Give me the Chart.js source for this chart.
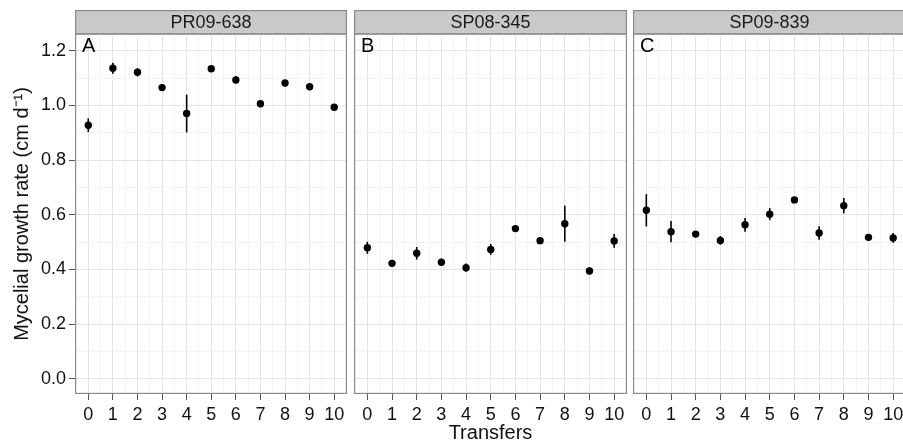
<!DOCTYPE html>
<html>
<head>
<meta charset="utf-8">
<script src="https://cdn.jsdelivr.net/npm/chart.js@4.4.0/dist/chart.umd.min.js"></script>
<style>
  html, body { margin: 0; padding: 0; background: #fff; overflow: hidden; }
  #wrap { position: relative; width: 903px; height: 445px; overflow: hidden; }
  canvas { position: absolute; top: 0; }
</style>
</head>
<body>
<div id="wrap">
  <canvas id="panelA" width="350" height="445" style="left:0px"></canvas>
  <canvas id="panelB" width="273" height="445" style="left:354px"></canvas>
  <canvas id="panelC" width="273" height="445" style="left:633px"></canvas>
</div>
<script>
// Data
const transfers = [0, 1, 2, 3, 4, 5, 6, 7, 8, 9, 10];
const isolates = ['PR09-638', 'SP08-345', 'SP09-839'];
const panelLetters = ['A', 'B', 'C'];

const growthA = [0.927, 1.136, 1.121, 1.065, 0.970, 1.134, 1.093, 1.006, 1.082, 1.068, 0.993];
const errA    = [0.025, 0.020, 0.015, 0.012, 0.069, 0.006, 0.013, 0.004, 0.005, 0.007, 0.007];
const growthB = [0.479, 0.422, 0.459, 0.426, 0.406, 0.473, 0.549, 0.505, 0.567, 0.394, 0.504];
const errB    = [0.022, 0.004, 0.023, 0.013, 0.015, 0.020, 0.006, 0.004, 0.066, 0.012, 0.025];
const growthC = [0.616, 0.538, 0.529, 0.506, 0.563, 0.602, 0.654, 0.533, 0.633, 0.517, 0.515];
const errC    = [0.059, 0.039, 0.005, 0.016, 0.025, 0.022, 0.008, 0.025, 0.028, 0.005, 0.018];

const yTicks = [0.0, 0.2, 0.4, 0.6, 0.8, 1.0, 1.2];
const yMinorTicks = [0.1, 0.3, 0.5, 0.7, 0.9, 1.1];
const xMinorTicks = [0.5, 1.5, 2.5, 3.5, 4.5, 5.5, 6.5, 7.5, 8.5, 9.5];

const FONT = '"Liberation Sans", Arial, Helvetica, sans-serif';
Chart.defaults.font.family = FONT;
Chart.defaults.color = '#111';

const GRID_MAJOR = '#e4e4e4';
const GRID_MINOR = '#f3f3f3';
const BORDER = '#8a8a8a';

// strip, panel border, letter and error bars
const facetPlugin = {
  id: 'facet',
  beforeDraw(chart, args, opts) {
    const { ctx, chartArea: a } = chart;
    ctx.save();
    ctx.fillStyle = '#c9c9c9';
    ctx.fillRect(a.left, 10, a.width, a.top - 10);
    ctx.strokeStyle = BORDER;
    ctx.lineWidth = 1.2;
    ctx.strokeRect(a.left + 0.6, 10.6, a.width - 1.2, a.top - 10.6);
    ctx.fillStyle = '#1a1a1a';
    ctx.font = '18px ' + FONT;
    ctx.textAlign = 'center';
    ctx.textBaseline = 'middle';
    ctx.fillText(opts.strip, (a.left + a.right) / 2, (10 + a.top) / 2 + 1);
    ctx.restore();
  },
  beforeDatasetsDraw(chart, args, opts) {
    const { ctx } = chart;
    const xs = chart.scales.x, ys = chart.scales.y;
    const pts = chart.data.datasets[0].data;
    ctx.save();
    ctx.strokeStyle = '#000';
    ctx.lineWidth = 1.6;
    pts.forEach((p, i) => {
      const e = opts.errors[i];
      const px = xs.getPixelForValue(p.x);
      ctx.beginPath();
      ctx.moveTo(px, ys.getPixelForValue(p.y - e));
      ctx.lineTo(px, ys.getPixelForValue(p.y + e));
      ctx.stroke();
    });
    ctx.restore();
  },
  afterDraw(chart, args, opts) {
    const { ctx, chartArea: a } = chart;
    ctx.save();
    ctx.strokeStyle = BORDER;
    ctx.lineWidth = 1.2;
    ctx.strokeRect(a.left + 0.6, a.top, a.width - 1.2, a.height - 0.6);
    ctx.fillStyle = '#000';
    ctx.font = '20px ' + FONT;
    ctx.textAlign = 'left';
    ctx.textBaseline = 'middle';
    ctx.fillText(opts.letter, a.left + 7, a.top + 12);
    ctx.restore();
  }
};

function makePanel(id, idx, means, errs) {
  const first = idx === 0;
  const xTickList = transfers.concat(xMinorTicks).sort((a, b) => a - b);
  const yTickList = yTicks.concat(yMinorTicks).sort((a, b) => a - b);
  return new Chart(document.getElementById(id), {
    type: 'scatter',
    data: {
      datasets: [{
        data: transfers.map((t, i) => ({ x: t, y: means[i] })),
        pointRadius: 3.7,
        pointBackgroundColor: '#000',
        pointBorderWidth: 0,
        showLine: false
      }]
    },
    options: {
      responsive: false,
      animation: false,
      layout: { autoPadding: false, padding: { top: 34, right: first ? 3 : 0, left: 0, bottom: 0 } },
      plugins: {
        legend: { display: false },
        tooltip: { enabled: false },
        facet: { strip: isolates[idx], letter: panelLetters[idx], errors: errs }
      },
      scales: {
        x: {
          type: 'linear',
          min: -0.54,
          max: 10.52,
          afterBuildTicks: s => { s.ticks = xTickList.map(v => ({ value: v })); },
          afterFit: s => { s.height = 51; s.paddingLeft = 0; s.paddingRight = 0; },
          ticks: {
            autoSkip: false,
            maxRotation: 0,
            padding: 4,
            font: { size: 18 },
            color: '#111',
            callback: v => transfers.includes(v) ? String(v) : ''
          },
          grid: {
            color: c => transfers.includes(c.tick.value) ? GRID_MAJOR : GRID_MINOR,
            tickColor: c => transfers.includes(c.tick.value) ? '#555' : 'rgba(0,0,0,0)',
            tickLength: 6,
            lineWidth: 1
          },
          border: { display: false },
          title: {
            display: idx === 1,
            text: 'Transfers',
            font: { size: 20 },
            color: '#111',
            padding: 0
          }
        },
        y: {
          min: -0.056,
          max: 1.261,
          afterBuildTicks: s => { s.ticks = yTickList.map(v => ({ value: v })); },
          afterFit: s => { s.width = first ? 75 : 0; s.paddingTop = 0; s.paddingBottom = 0; },
          ticks: {
            display: first,
            autoSkip: false,
            padding: 3,
            font: { size: 18 },
            color: '#111',
            callback: v => yTicks.includes(v) ? v.toFixed(1) : ''
          },
          grid: {
            color: c => yTicks.includes(c.tick.value) ? GRID_MAJOR : GRID_MINOR,
            tickColor: c => (first && yTicks.includes(c.tick.value)) ? '#555' : 'rgba(0,0,0,0)',
            tickLength: 6,
            drawTicks: first,
            lineWidth: 1
          },
          border: { display: false },
          title: {
            display: first,
            text: 'Mycelial growth rate (cm d\u207B\u00B9)',
            font: { size: 20 },
            color: '#111',
            padding: { top: 10, bottom: 0 }
          }
        }
      }
    },
    plugins: [facetPlugin]
  });
}

makePanel('panelA', 0, growthA, errA);
makePanel('panelB', 1, growthB, errB);
makePanel('panelC', 2, growthC, errC);
</script>
</body>
</html>
